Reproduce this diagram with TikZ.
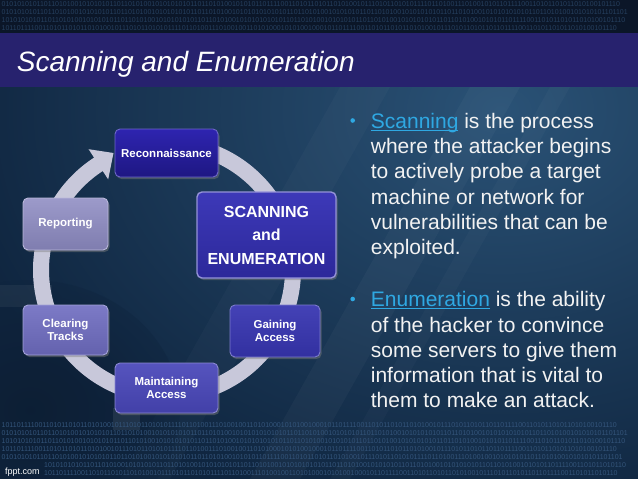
\documentclass[tikz,border=0pt]{standalone}
\usepackage{fontspec}
\setmainfont{Liberation Sans}
\usetikzlibrary{arrows.meta,shadows}

\definecolor{topband}{HTML}{0B1628}
\definecolor{bintop}{HTML}{26405F}
\definecolor{binbot}{HTML}{34557B}
\definecolor{titleband}{HTML}{27226E}
\definecolor{bgmain}{HTML}{0F253F}
\definecolor{bgglow}{HTML}{2A5276}
\definecolor{bgdark}{HTML}{0A1728}
\definecolor{ringc}{HTML}{C8C8DA}
\definecolor{linkc}{HTML}{2FA8E2}
\definecolor{txtc}{HTML}{F2F2F2}
\definecolor{reconT}{HTML}{2E24B0}\definecolor{reconB}{HTML}{1E1782}
\definecolor{scanT}{HTML}{3D39B8}\definecolor{scanB}{HTML}{2C289A}
\definecolor{gainT}{HTML}{4442B6}\definecolor{gainB}{HTML}{3230A0}
\definecolor{maintT}{HTML}{5654BE}\definecolor{maintB}{HTML}{4240A8}
\definecolor{clearT}{HTML}{7C7AC6}\definecolor{clearB}{HTML}{6462AE}
\definecolor{reportT}{HTML}{9C9ACA}\definecolor{reportB}{HTML}{7F7DAF}

\newcommand\boxfont{\fontsize{11.5}{12.5}\selectfont\bfseries}
\newcommand\bigboxfont{\fontsize{16}{23.5}\selectfont\bfseries}
\newcommand\paraf{\fontsize{21}{25}\selectfont}
\newcommand\titlef{\fontsize{28}{32}\selectfont\itshape}
\newcommand\binf{\fontsize{7}{8}\selectfont}
\newcommand\ulink[1]{{\color{linkc}\setbox0\hbox{#1}\rlap{\rule[-2.4pt]{\wd0}{1pt}}\box0}}

\def\bA{1011011110011010110101101010010111010110101011110110100111010010}
\def\bB{0101010101101101010010101010110110101001010101010110110101001010}
\def\bC{1010101010110110101001010101011011010100101010101011011010100101}
\def\bD{0110101000101010010001011011110011010110101101010010111010110101}
\def\bE{10110111100110101101011010100101110}
\def\bG{01010101011011010100101010101101101}
\def\bF{101101111001101011010110}

\begin{document}
\begin{tikzpicture}[x=1pt,y=-1pt,
  box/.style 2 args={rounded corners=5pt, top color=#1, bottom color=#2,
    draw=#1!70!white, line width=0.9pt, text=white, font=\boxfont,
    align=center, inner sep=0pt,
    drop shadow={opacity=0.45, shadow xshift=1.5pt, shadow yshift=-2pt}},
  para/.style={anchor=base west, inner sep=0pt, text=txtc, font=\paraf},
  bullet/.style={circle, fill=linkc, inner sep=0pt, minimum size=4.6pt},
  binrow/.style={anchor=west, inner sep=0pt, font=\binf},
  ring/.style={draw=ringc, line width=16pt}
]
\useasboundingbox (0,0) rectangle (638,479);

% ---------- background ----------
\fill[bgmain] (0,0) rectangle (638,479);
\begin{scope}
  \clip (0,87) rectangle (638,479);
  \shade[inner color=bgglow, outer color=bgmain] (500,110) ellipse [x radius=560, y radius=420];
  \fill[white, opacity=0.03] (250,479) -- (300,479) -- (520,87) -- (470,87) -- cycle;
  \fill[white, opacity=0.025] (330,479) -- (350,479) -- (570,87) -- (550,87) -- cycle;
  \fill[white, opacity=0.025] (120,479) -- (170,479) -- (390,87) -- (340,87) -- cycle;
  \shade[inner color=bgdark, outer color=bgmain, opacity=0.45] (30,410) ellipse [x radius=150, y radius=130];
  \fill[white, opacity=0.05] (0,285) rectangle (52,307);
  \fill[white, opacity=0.08] (113,408) rectangle (140,430);
\end{scope}

% top band with binary
\fill[topband] (0,0) rectangle (638,33);
\foreach \yy/\txt [count=\i] in {4/\bB\bA\bE, 12/\bB\bC\bG, 20/\bC\bB\bE, 28/\bA\bD\bE}
  \node[binrow, text=bintop] (bt\i) at (1.5,\yy) {\txt};

% title band
\fill[titleband] (0,33) rectangle (638,87);
\node[anchor=base west, inner sep=0pt, font=\titlef, text=white] (title) at (16.7,71) {Scanning and Enumeration};

% bottom binary
\foreach \yy/\txt [count=\i] in {425/\bA\bD\bE, 433/\bB\bC\bG, 441/\bC\bB\bE, 449/\bA\bD\bE, 457/\bB\bA\bG}
  \node[binrow, text=binbot] (bb\i) at (1.5,\yy) {\txt};
\foreach \yy/\txt [count=\i] in {465/\bC\bB\bF, 473/\bA\bD\bF}
  \node[binrow, text=binbot] (bc\i) at (44,\yy) {\txt};
\node[anchor=base west, inner sep=0pt, font=\fontsize{9}{10}\selectfont, text=white] (fppt) at (5,474.5) {fppt.com};

% ---------- cycle ring ----------
\coordinate (ringend) at (98.4,164.3);
\draw[ring] plot[domain=-88:238, samples=180] ({167+126*cos(\x)}, {270+126*sin(\x)});
\fill[ringc] (88.6,149.2) -- (113.5,153.0) -- (108.2,179.4) -- cycle;

% ---------- boxes ----------
\node[box={reconT}{reconB}, minimum width=103pt, minimum height=48pt] (recon) at (166.5,153) {Reconnaissance};
\node[box={reportT}{reportB}, minimum width=85pt, minimum height=52pt] (report) at (65.5,224) {Reporting};
\node[box={clearT}{clearB}, minimum width=85pt, minimum height=50pt] (clear) at (65.5,330) {Clearing\\Tracks};
\node[box={maintT}{maintB}, minimum width=103pt, minimum height=50pt] (maint) at (166.5,388) {Maintaining\\Access};
\node[box={gainT}{gainB}, minimum width=90pt, minimum height=52pt] (gain) at (275,331) {Gaining\\Access};
\node[box={scanT}{scanB}, draw=scanT!55!white, line width=1.4pt, font=\bigboxfont, minimum width=139pt, minimum height=86pt] (scan) at (266.5,235) {SCANNING\\and\\ENUMERATION};

% ---------- text ----------
\node[bullet] (b1) at (352.7,120.5) {};
\node[para] (l1) at (370.7,128.3) {\ulink{Scanning} is the process};
\node[para] (l2) at (370.7,153.6) {where the attacker begins};
\node[para] (l3) at (370.7,178.9) {to actively probe a target};
\node[para] (l4) at (370.7,204.2) {machine or network for};
\node[para] (l5) at (370.7,229.5) {vulnerabilities that can be};
\node[para] (l6) at (370.7,254.8) {exploited.};

\node[bullet] (b2) at (352.7,299) {};
\node[para] (m1) at (370.7,306.7) {\ulink{Enumeration} is the ability};
\node[para] (m2) at (370.7,332) {of the hacker to convince};
\node[para] (m3) at (370.7,357.3) {some servers to give them};
\node[para] (m4) at (370.7,382.6) {information that is vital to};
\node[para] (m5) at (370.7,407.9) {them to make an attack.};
\end{tikzpicture}
\end{document}
